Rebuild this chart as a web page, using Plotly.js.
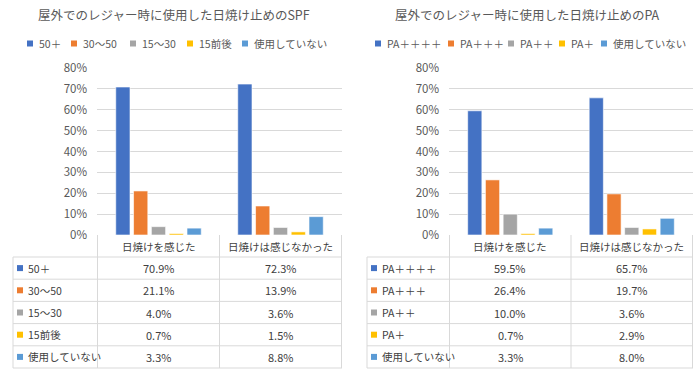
<!DOCTYPE html>
<html>
<head>
<meta charset="utf-8">
<script src="https://cdn.plot.ly/plotly-3.0.1.min.js"></script>
<style>html,body{margin:0;padding:0;background:#fff;}#chart{width:700px;height:372px;}</style>
</head>
<body>
<div id="chart"></div>
<script>
// ---- Data ----
const categories = ['日焼けを感じた', '日焼けは感じなかった'];
const spfTitle = '屋外でのレジャー時に使用した日焼け止めのSPF';
const spfSeries = ['50＋', '30～50', '15～30', '15前後', '使用していない'];
const spfFelt = [70.9, 21.1, 4.0, 0.7, 3.3];
const spfNotFelt = [72.3, 13.9, 3.6, 1.5, 8.8];
const paTitle = '屋外でのレジャー時に使用した日焼け止めのPA';
const paSeries = ['PA＋＋＋＋', 'PA＋＋＋', 'PA＋＋', 'PA＋', '使用していない'];
const paFelt = [59.5, 26.4, 10.0, 0.7, 3.3];
const paNotFelt = [65.7, 19.7, 3.6, 2.9, 8.0];
const yTickVals = [0, 10, 20, 30, 40, 50, 60, 70, 80];
const yTickText = ['0%', '10%', '20%', '30%', '40%', '50%', '60%', '70%', '80%'];

// ---- Style ----
const colors = ['#4472C4', '#ED7D31', '#A5A5A5', '#FFC000', '#5B9BD5'];
const W = 700, H = 372;
const FONT = '"Noto Sans CJK JP", "Noto Sans", sans-serif';
const TXT = '#595959';
const GRID = '#D9D9D9';
const px = p => p / W;
const py = p => 1 - p / H;

const plotTop = 68, plotBottom = 235;
const headerBottom = 257, rowH = 22.2;

const panels = [
  { title: spfTitle, series: spfSeries, felt: spfFelt, notFelt: spfNotFelt,
    xa: 'x', ya: 'y', plotL: 97, plotR: 342, tableL: 13, titleX: 174,
    legendTextX: [37, 81, 140, 197, 252] },
  { title: paTitle, series: paSeries, felt: paFelt, notFelt: paNotFelt,
    xa: 'x2', ya: 'y2', plotL: 449, plotR: 693, tableL: 367, titleX: 527,
    legendTextX: [385, 458, 518, 569, 611] }
];

const traces = [];
const shapes = [];
const annotations = [];

panels.forEach((p, pi) => {
  p.series.forEach((name, i) => {
    traces.push({
      type: 'bar', name: name, x: categories, y: [p.felt[i], p.notFelt[i]],
      xaxis: p.xa, yaxis: p.ya, showlegend: false, hoverinfo: 'skip',
      marker: { color: colors[i], line: { color: 'rgba(255,255,255,0.6)', width: 1 } }
    });
  });
  // title
  annotations.push({ text: p.title, xref: 'paper', yref: 'paper', x: px(p.titleX), y: py(15),
    xanchor: 'center', yanchor: 'middle', showarrow: false, font: { family: FONT, size: 12.5, color: TXT } });
  // legend
  p.series.forEach((name, i) => {
    const tx = p.legendTextX[i];
    shapes.push({ type: 'rect', xref: 'paper', yref: 'paper', x0: px(tx - 10), x1: px(tx - 4),
      y0: py(46.5), y1: py(40.5), fillcolor: colors[i], line: { width: 0 } });
    annotations.push({ text: name, xref: 'paper', yref: 'paper', x: px(tx), y: py(43.5),
      xanchor: 'left', yanchor: 'middle', showarrow: false, font: { family: FONT, size: 10.5, color: TXT } });
  });
  // table grid
  const xd = p.xa; // data x ref
  [-0.5, 0.5, 1.5].forEach(v => {
    shapes.push({ type: 'line', xref: xd, yref: 'paper', x0: v, x1: v, y0: py(plotBottom), y1: py(headerBottom + 5 * rowH),
      line: { color: GRID, width: 1 } });
  });
  shapes.push({ type: 'line', xref: 'paper', yref: 'paper', x0: px(p.tableL), x1: px(p.tableL),
    y0: py(headerBottom), y1: py(headerBottom + 5 * rowH), line: { color: GRID, width: 1 } });
  for (let r = 0; r <= 5; r++) {
    shapes.push({ type: 'line', xref: 'paper', yref: 'paper', x0: px(p.tableL), x1: px(p.plotR),
      y0: py(headerBottom + r * rowH), y1: py(headerBottom + r * rowH), line: { color: GRID, width: 1 } });
  }
  // header
  categories.forEach((c, j) => {
    annotations.push({ text: c, xref: xd, yref: 'paper', x: j, y: py((plotBottom + headerBottom) / 2 + 0.5),
      xanchor: 'center', yanchor: 'middle', showarrow: false, font: { family: FONT, size: 10.5, color: '#404040' } });
  });
  // rows
  p.series.forEach((name, i) => {
    const cy = headerBottom + (i + 0.5) * rowH;
    shapes.push({ type: 'rect', xref: 'paper', yref: 'paper', x0: px(p.tableL + 4), x1: px(p.tableL + 10),
      y0: py(cy + 3), y1: py(cy - 3), fillcolor: colors[i], line: { width: 0 } });
    annotations.push({ text: name, xref: 'paper', yref: 'paper', x: px(p.tableL + 13), y: py(cy),
      xanchor: 'left', yanchor: 'middle', showarrow: false, font: { family: FONT, size: 10.5, color: '#404040' } });
    [p.felt[i], p.notFelt[i]].forEach((v, j) => {
      annotations.push({ text: v.toFixed(1) + '%', xref: xd, yref: 'paper', x: j, y: py(cy),
        xanchor: 'center', yanchor: 'middle', showarrow: false, font: { family: FONT, size: 11, color: '#404040' } });
    });
  });
});

const yaxisBase = {
  range: [0, 80], tickvals: yTickVals, ticktext: yTickText, showgrid: true, gridcolor: GRID, gridwidth: 1,
  zeroline: false, showline: false, ticks: '', ticklabelstandoff: 9,
  tickfont: { family: FONT, size: 11.5, color: TXT }, fixedrange: true
};
const xaxisBase = { showticklabels: false, showgrid: false, zeroline: false, showline: false, ticks: '', fixedrange: true };
const yDom = [py(plotBottom), py(plotTop)];

const layout = {
  width: W, height: H, margin: { l: 0, r: 0, t: 0, b: 0 },
  paper_bgcolor: '#fff', plot_bgcolor: '#fff', showlegend: false,
  barmode: 'group', bargap: 0.27, bargroupgap: 0.2,
  font: { family: FONT, color: TXT },
  xaxis: Object.assign({}, xaxisBase, { domain: [px(panels[0].plotL), px(panels[0].plotR)], anchor: 'y' }),
  yaxis: Object.assign({}, yaxisBase, { domain: yDom, anchor: 'x' }),
  xaxis2: Object.assign({}, xaxisBase, { domain: [px(panels[1].plotL), px(panels[1].plotR)], anchor: 'y2' }),
  yaxis2: Object.assign({}, yaxisBase, { domain: yDom, anchor: 'x2' }),
  shapes: shapes, annotations: annotations
};

Plotly.newPlot('chart', traces, layout, { staticPlot: true, displayModeBar: false });
</script>
</body>
</html>
